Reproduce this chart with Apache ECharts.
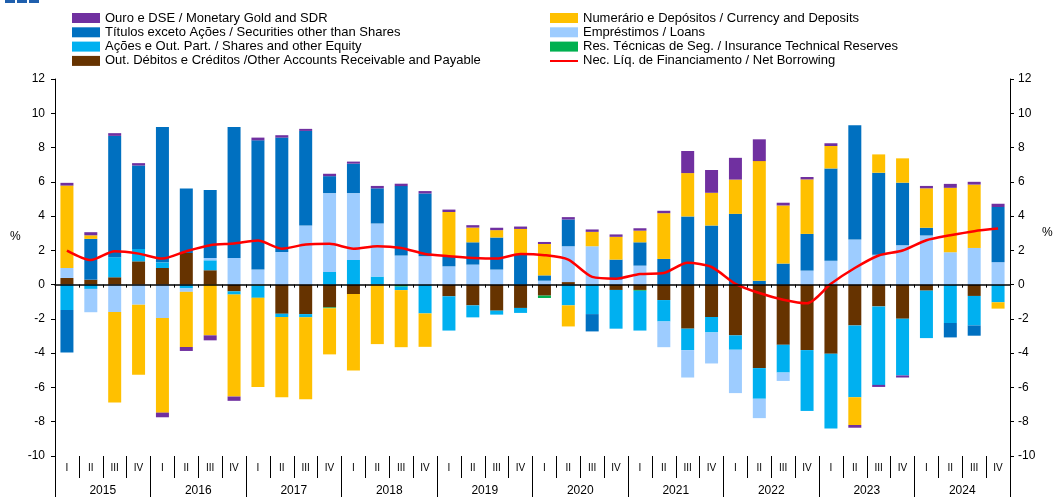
<!DOCTYPE html>
<html>
<head>
<meta charset="utf-8">
<script src="https://cdn.jsdelivr.net/npm/echarts@6/dist/echarts.min.js"></script>
<style>
  html, body { margin: 0; padding: 0; background: #fff; }
  #chart { width: 1054px; height: 497px; }
</style>
</head>
<body>
<div id="chart"></div>
<script>
// quarters 2015 I .. 2024 IV
var years = ['2015', '2016', '2017', '2018', '2019', '2020', '2021', '2022', '2023', '2024'];
var quarterNames = ['I', 'II', 'III', 'IV'];

var otherAccounts = [0.39, 0.29, 0.43, 1.36, 0.97, 1.85, 0.84, -0.39, 0, -1.7, -1.72, -1.33, -0.55, 0, 0, 0, -0.68, -1.21, -1.52, -1.36, -0.64, 0.15, 0, -0.31, -0.31, -0.9, -2.57, -1.89, -2.96, -4.87, -3.51, -3.82, -4.04, -2.38, -1.27, -1.99, -0.35, 0, -0.66, 0];
var insurance = [0, 0, 0, 0, 0, 0, 0, 0, -0.05, 0, 0, -0.05, 0, 0, -0.12, 0, 0, 0, 0, 0, -0.14, 0, 0, 0, -0.05, 0, 0, 0, 0, 0, 0, 0, 0, 0, 0, 0, 0, 0, 0, 0];
var shares = [-1.48, -0.25, 1.17, 0.72, 0.33, -0.22, 0.58, -0.19, -0.72, -0.19, -0.19, 0.74, 1.44, 0.47, -0.2, -1.68, -2.0, -0.7, -0.23, -0.29, 0, -1.21, -1.72, -2.26, -2.32, -1.25, -1.25, -0.9, -0.84, -1.79, -1.62, -3.55, -4.35, -4.19, -4.58, -3.31, -2.77, -2.24, -1.72, -1.03];
var loans = [0.58, -1.36, -1.6, -1.17, -1.95, -0.2, 0.14, 1.56, 0.88, 1.91, 3.45, 4.6, 3.9, 3.1, 1.7, 1.66, 1.07, 1.17, 0.88, 0, 0.23, 2.09, 2.24, 0.29, 1.11, -1.5, -1.6, -1.81, -2.53, -1.13, -0.49, 0.82, 1.4, 2.63, 1.75, 2.3, 2.87, 1.89, 2.14, 1.31];
var securities = [-2.48, 2.38, 7.08, 4.87, 7.9, 3.76, 3.96, 7.64, 7.54, 6.67, 5.52, 0.99, 1.72, 2.05, 4.05, 3.66, 0.58, 1.3, 1.87, 1.81, 0.31, 1.56, -1.01, 1.17, 1.36, 1.5, 3.98, 3.45, 4.13, 0.23, 1.23, 2.14, 5.38, 6.67, 4.78, 3.65, 0.45, -0.84, -0.6, 3.22];
var currency = [4.81, 0.21, -5.28, -4.09, -5.52, -3.22, -2.96, -5.95, -5.2, -4.68, -4.78, -2.69, -4.46, -3.47, -3.33, -1.95, 2.59, 0.86, 0.43, 1.44, 1.83, -1.23, 0.84, 1.33, 0.68, 2.67, 2.53, 1.91, 2.0, 6.98, 3.39, 3.18, 1.31, -1.62, 1.07, 1.42, 2.3, 3.76, 3.7, -0.37];
var gold = [0.16, 0.18, 0.16, 0.14, -0.27, -0.23, -0.29, -0.25, 0.16, 0.14, 0.12, 0.14, 0.12, 0.14, 0.14, 0.14, 0.14, 0.14, 0.14, 0.14, 0.12, 0.14, 0.14, 0.14, 0.14, 0.14, 1.29, 1.33, 1.27, 1.27, 0.16, 0.14, 0.16, -0.16, -0.12, -0.12, 0.14, 0.23, 0.16, 0.19];
var netBorrowing = [1.99, 1.44, 1.95, 1.81, 1.52, 1.95, 2.3, 2.4, 2.57, 2.1, 2.34, 2.38, 2.1, 2.24, 2.14, 1.79, 1.66, 1.56, 1.52, 1.79, 1.72, 1.46, 0.45, 0.35, 0.62, 0.68, 1.27, 1.03, 0.05, -0.49, -0.88, -1.09, 0.05, 0.97, 1.7, 1.99, 2.59, 2.88, 3.12, 3.27];

var quarters = [];
years.forEach(function (y) {
  quarterNames.forEach(function (q) { quarters.push(q); });
});

var names = {
  gold: 'Ouro e DSE / Monetary Gold and SDR',
  securities: 'Títulos exceto Ações / Securities other than Shares',
  shares: 'Ações e Out. Part. / Shares and other Equity',
  other: 'Out. Débitos e Créditos /Other Accounts Receivable and Payable',
  currency: 'Numerário e Depósitos / Currency and Deposits',
  loans: 'Empréstimos / Loans',
  insurance: 'Res. Técnicas de Seg. / Insurance Technical Reserves',
  net: 'Nec. Líq. de Financiamento / Net Borrowing'
};

var font = '"Liberation Sans", Arial, sans-serif';
// thin line icon, with tiny corner specks so the box stays 28x10
var lineIcon = 'path://M0,4L28,4L28,6L0,6Z M0,0L0.01,0L0.01,0.01Z M27.99,10L28,10L28,9.99Z';

function barSeries(name, data, color) {
  return {
    name: name,
    type: 'bar',
    stack: 'total',
    barWidth: 13,
    data: data,
    itemStyle: { color: color },
    emphasis: { disabled: true }
  };
}

var myChart = echarts.init(document.getElementById('chart'));

var legendText = { fontFamily: font, fontSize: 13, color: '#000', lineHeight: 14 };

var option = {
  animation: false,
  backgroundColor: '#fff',
  legend: [{
    orient: 'vertical',
    left: 72,
    top: 11,
    padding: 0,
    itemWidth: 28,
    itemHeight: 10,
    itemGap: 0.3,
    textStyle: legendText,
    selectedMode: false,
    data: [
      { name: names.gold, icon: 'rect' },
      { name: names.securities, icon: 'rect' },
      { name: names.shares, icon: 'rect' },
      { name: names.other, icon: 'rect' }
    ]
  }, {
    orient: 'vertical',
    left: 550,
    top: 11,
    padding: 0,
    itemWidth: 28,
    itemHeight: 10,
    itemGap: 0.3,
    textStyle: legendText,
    selectedMode: false,
    data: [
      { name: names.currency, icon: 'rect' },
      { name: names.loans, icon: 'rect' },
      { name: names.insurance, icon: 'rect' },
      { name: names.net, icon: lineIcon }
    ]
  }],
  grid: { left: 55, right: 44, top: 79, bottom: 41 },
  xAxis: [{
    type: 'category',
    data: quarters,
    position: 'bottom',
    axisLine: { show: false, onZero: false },
    axisTick: { show: true, interval: 0, length: 22, lineStyle: { color: '#000' } },
    axisLabel: { interval: 0, margin: 7, fontFamily: font, fontSize: 10, color: '#000' }
  }, {
    type: 'category',
    data: years,
    position: 'bottom',
    axisLine: { show: false, onZero: false },
    axisTick: { show: true, interval: 0, length: 42, lineStyle: { color: '#000' } },
    axisLabel: { interval: 0, margin: 29, fontFamily: font, fontSize: 12, color: '#000' }
  }, {
    type: 'category',
    data: quarters,
    position: 'bottom',
    z: 10,
    axisLine: { show: true, onZero: true, onZeroAxisIndex: 0, lineStyle: { color: '#000', width: 1.5 } },
    axisTick: { show: true, interval: 0, length: 3, lineStyle: { color: '#000' } },
    axisLabel: { show: false }
  }],
  yAxis: [{
    type: 'value',
    position: 'left',
    min: -10,
    max: 12,
    interval: 2,
    splitLine: { show: false },
    axisLine: { show: true, lineStyle: { color: '#000' } },
    axisTick: { show: true, length: 4, lineStyle: { color: '#000' } },
    axisLabel: { margin: 10, fontFamily: font, fontSize: 12, color: '#000' }
  }, {
    type: 'value',
    position: 'right',
    min: -10,
    max: 12,
    interval: 2,
    splitLine: { show: false },
    axisLine: { show: true, lineStyle: { color: '#000' } },
    axisTick: { show: true, length: 4, lineStyle: { color: '#000' } },
    axisLabel: { margin: 8, fontFamily: font, fontSize: 12, color: '#000' }
  }],
  graphic: [
    { type: 'rect', left: 5, top: 0, shape: { width: 10, height: 3 }, style: { fill: '#1F5FAD' } },
    { type: 'rect', left: 17, top: 0, shape: { width: 10, height: 3 }, style: { fill: '#1F5FAD' } },
    { type: 'rect', left: 29, top: 0, shape: { width: 10, height: 3 }, style: { fill: '#1F5FAD' } },
    { type: 'text', left: 10, top: 231, style: { text: '%', font: '12px ' + font, fill: '#000' } },
    { type: 'text', left: 1042, top: 227, style: { text: '%', font: '12px ' + font, fill: '#000' } }
  ],
  series: [
    barSeries(names.other, otherAccounts, '#663300'),
    barSeries(names.insurance, insurance, '#00B050'),
    barSeries(names.shares, shares, '#00B0F0'),
    barSeries(names.loans, loans, '#9DCCFF'),
    barSeries(names.securities, securities, '#0070C0'),
    barSeries(names.currency, currency, '#FFC000'),
    barSeries(names.gold, gold, '#7030A0'),
    {
      name: names.net,
      type: 'line',
      data: netBorrowing,
      smooth: 0.25,
      symbol: 'none',
      z: 5,
      lineStyle: { color: '#FF0000', width: 2.5 },
      itemStyle: { color: '#FF0000' },
      emphasis: { disabled: true }
    }
  ]
};

myChart.setOption(option);
</script>
</body>
</html>
